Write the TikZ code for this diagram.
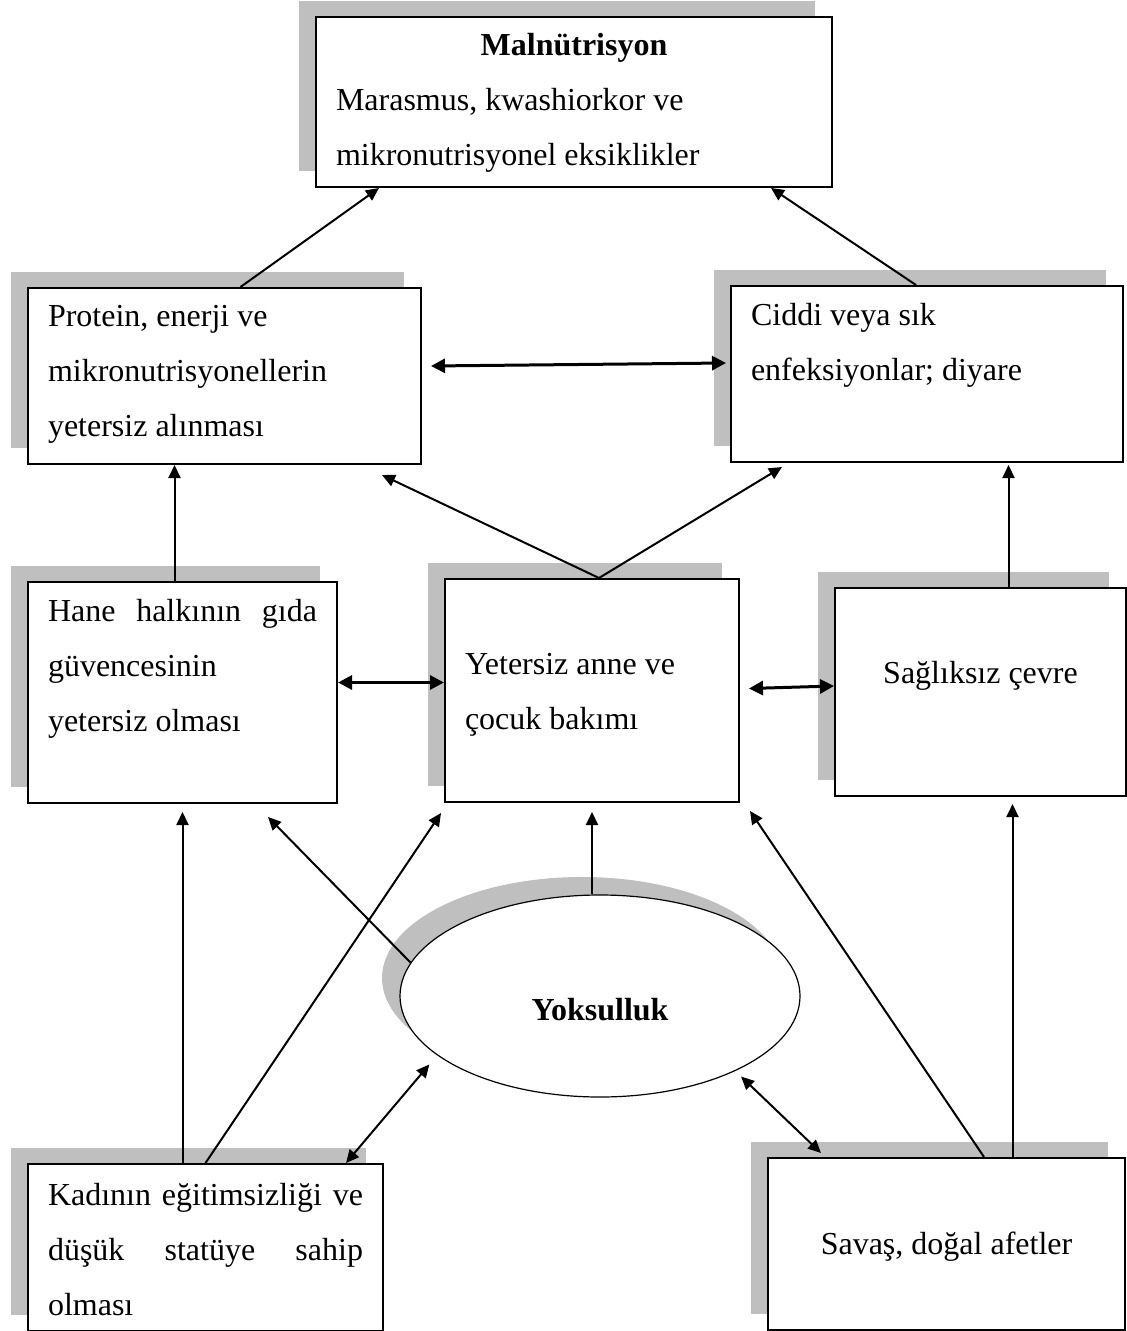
\documentclass[tikz,border=0pt]{standalone}
\usepackage{fontspec}
\setmainfont{Liberation Serif}
\usetikzlibrary{positioning, arrows.meta, shapes.geometric, shadows, calc}

\definecolor{golge}{RGB}{191,191,191}

% kutu icerigi: genislik, yukseklik, ilk satir, metin
\newcommand{\kutu}[4]{\parbox[c][#2][t]{#1}{\rule{0pt}{#3}#4}}
\newcommand{\yayik}[1]{\makebox[\linewidth][s]{#1}}

\begin{document}
\begin{tikzpicture}[
        x=0.5pt, y=-0.5pt,
        box/.style={
            rectangle,
            draw=black,
            fill=white,
            line width=1pt,
            inner xsep=10pt,
            inner ysep=0pt,
            anchor=north west,
            font=\fontsize{16}{27.5}\selectfont,
            drop shadow={shadow xshift=-8.5pt, shadow yshift=8pt, fill=golge, opacity=1}
        },
        oval/.style={
            ellipse,
            draw=black,
            fill=white,
            line width=0.6pt,
            minimum width=200pt,
            minimum height=101pt,
            font=\fontsize{16}{27.5}\selectfont\bfseries,
            drop shadow={shadow xshift=-9pt, shadow yshift=9pt, fill=golge, opacity=1}
        },
        arrow/.style={
            line width=1pt,
            -{Triangle[length=6.5pt,width=6pt]}
        },
        cift/.style={
            line width=1.5pt,
            {Triangle[length=7pt,width=7pt]}-{Triangle[length=7pt,width=7pt]}
        },
        ince/.style={
            line width=1pt,
            {Triangle[length=6.5pt,width=6pt]}-{Triangle[length=6.5pt,width=6pt]}
        }
    ]
    \useasboundingbox (0,0) rectangle (1126,1331);

    % Kutular
    \node[box] (mal) at (315,16) {\kutu{238pt}{85pt}{19.5pt}{\yayik{\hfil\bfseries Malnütrisyon\hfil}\\
        Marasmus, kwashiorkor ve\\ mikronutrisyonel eksiklikler}};
    \node[box] (prot) at (27,287) {\kutu{176.5pt}{88pt}{19.5pt}{Protein, enerji ve\\
        mikronutrisyonellerin\\ yetersiz alınması}};
    \node[box] (cidd) at (730,285) {\kutu{176pt}{88pt}{20pt}{Ciddi veya sık\\
        enfeksiyonlar; diyare}};
    \node[box] (hane) at (27,581) {\kutu{134.5pt}{110.5pt}{19.5pt}{\yayik{Hane halkının gıda}\\
        güvencesinin\\ yetersiz olması}};
    \node[box] (bak) at (444,578) {\kutu{127pt}{111.5pt}{47.5pt}{Yetersiz anne ve\\
        çocuk bakımı}};
    \node[box] (cevre) at (834,587) {\kutu{125.5pt}{104pt}{47.5pt}{\centering Sağlıksız çevre}};
    \node[box] (kad) at (27,1163) {\kutu{157.5pt}{83.5pt}{20.5pt}{\yayik{Kadının eğitimsizliği ve}\\
        \yayik{düşük statüye sahip}\\ olması}};
    \node[box] (sav) at (767,1157) {\kutu{158.5pt}{86pt}{48pt}{\centering Savaş, doğal afetler}};

    % Yoksulluk
    \node[oval] (yok) at (600,996) {\raisebox{-12pt}[0pt][0pt]{Yoksulluk}};

    % Oklar
    \draw[arrow] ([xshift=8pt]prot.north) -- ([xshift=-97.5pt]mal.south);
    \draw[arrow] ([xshift=-5.5pt]cidd.north) -- ([xshift=98.5pt]mal.south);
    \draw[cift] ([xshift=4.5pt,yshift=5pt]prot.east) -- ([xshift=-2pt,yshift=5.5pt]cidd.west);
    \draw[arrow] ($(hane.north)+(-4pt,0)$) -- ($(hane.north |- prot.south)+(-4pt,0)$);
    \draw[arrow] ([xshift=3.5pt]bak.north) -- ([xshift=-20pt,yshift=-5pt]prot.south east);
    \draw[arrow] ([xshift=3.5pt]bak.north) -- ([xshift=26pt,yshift=-2pt]cidd.south west);
    \draw[arrow] ($(cevre.north)+(14pt,0)$) -- ($(cevre.north |- cidd.south)+(14pt,-1pt)$);
    \draw[cift] ($(hane.east -| hane.east)+(0,5pt)$) -- ($(hane.east -| bak.west)+(0,5pt)$);
    \draw[cift] ([xshift=4.5pt,yshift=1pt]bak.east) -- ([yshift=3pt]cevre.west);
    \draw[arrow] (hane.south |- kad.north) -- ([yshift=-4pt]hane.south);
    \draw[arrow] (yok.170) -- ([xshift=-35pt,yshift=-6.5pt]hane.south east);
    \draw[arrow] (kad.north) -- ([xshift=-1.5pt,yshift=-5pt]bak.south west);
    \draw[arrow] (bak.south |- yok.north) -- ([yshift=-4.5pt]bak.south);
    \draw[ince, shorten >=6pt] ([xshift=-19pt]kad.north east) -- (yok.200);
    \draw[ince, shorten <=4pt] (yok.331) -- ([xshift=27pt,yshift=2pt]sav.north west);
    \draw[arrow] ([xshift=18.75pt]sav.north) -- ([xshift=5pt,yshift=-4pt]bak.south east);
    \draw[arrow] ($(cevre.south |- sav.north)+(16pt,0)$) -- ($(cevre.south)+(16pt,-3.5pt)$);

\end{tikzpicture}
\end{document}
